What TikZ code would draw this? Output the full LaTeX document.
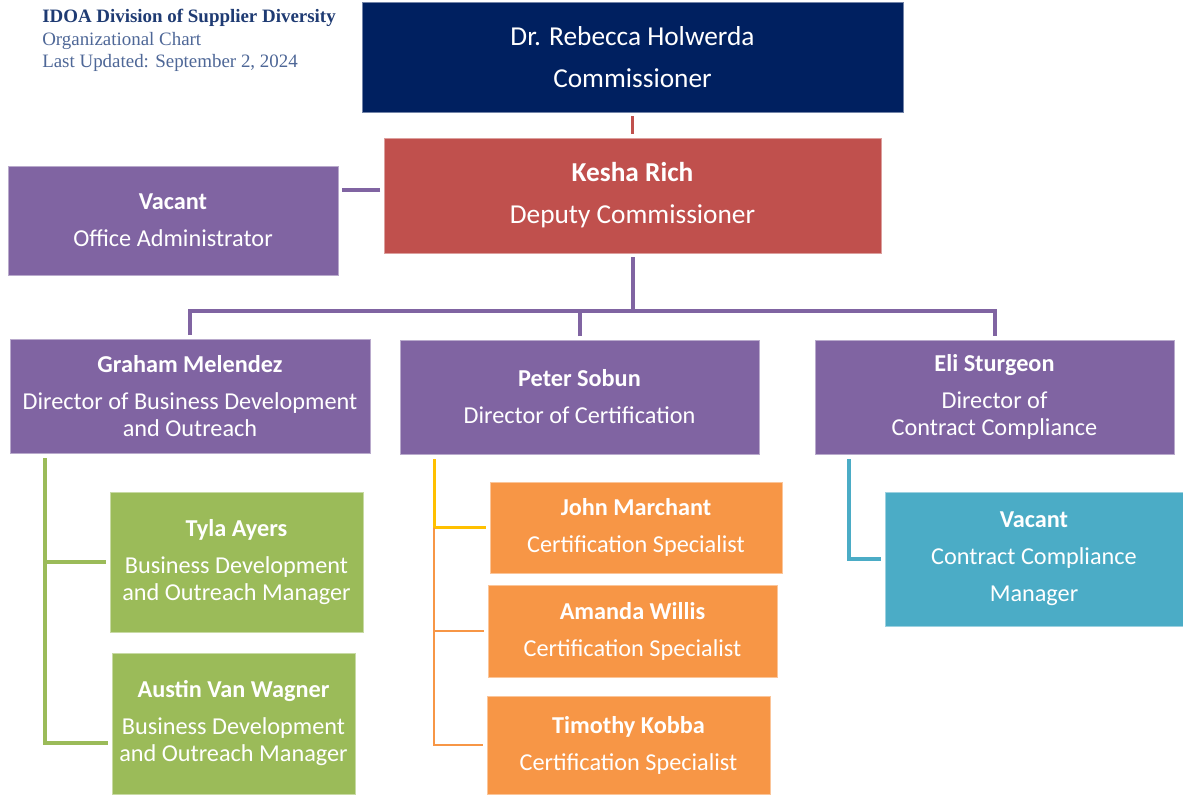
\documentclass[tikz,border=0pt]{standalone}
\usepackage{fontspec}
\setmainfont{Carlito}
\newfontfamily\titlefont{Liberation Serif}

\definecolor{navy}{HTML}{002060}
\definecolor{brick}{HTML}{C0504D}
\definecolor{plum}{HTML}{8064A2}
\definecolor{leaf}{HTML}{9BBB59}
\definecolor{tang}{HTML}{F79646}
\definecolor{teal}{HTML}{4BACC6}
\definecolor{gold}{HTML}{FFC000}
\definecolor{inkblue}{HTML}{1F3B73}
\definecolor{softblue}{HTML}{4E6797}

\tikzset{
  box/.style={rectangle, fill=#1, draw=#1!55!white, line width=0.6pt, text=white,
    align=center, inner sep=0pt, outer sep=3pt, font=\fontsize{18.2}{20.25}\selectfont},
  bigbox/.style={box=#1, font=\fontsize{20.5}{31.5}\selectfont},
  link/.style={draw=#1, line width=3pt},
  thinlink/.style={draw=#1, line width=1.5pt},
  caption/.style={anchor=base west, inner sep=0pt, font=\titlefont\fontsize{14.2}{16}\selectfont}
}

\begin{document}
\begin{tikzpicture}[x=0.75pt,y=-0.75pt]
  \useasboundingbox[fill=white] (0,0) rectangle (1183,794);

  % Heading
  \node[caption, text=inkblue, font=\titlefont\bfseries\fontsize{14.2}{16}\selectfont] (ttl) at (42,22) {IDOA Division of Supplier Diversity};
  \node[caption, text=softblue] (sub) at (42,45) {Organizational Chart};
  \node[caption, text=softblue] (upd) at (42,67) {Last Updated: September 2, 2024};

  % Leadership
  \node[bigbox=navy, minimum width=405.75pt, minimum height=82.5pt] (com) at (632.5,57) {Dr. Rebecca Holwerda\\Commissioner};
  \node[bigbox=brick, minimum width=372.75pt, minimum height=86.25pt] (dep) at (632.5,195.5) {\textbf{Kesha Rich}\\Deputy Commissioner};
  \node[box=plum, minimum width=247.5pt, minimum height=81.75pt] (adm) at (173,220.5) {\textbf{Vacant}\\[7.5pt]Office Administrator};

  % Directors
  \node[box=plum, minimum width=270pt, minimum height=85.5pt] (grm) at (190,396) {\textbf{Graham Melendez}\\[7.5pt]Director of Business Development\\and Outreach};
  \node[box=plum, minimum width=269.25pt, minimum height=85.5pt] (psb) at (579.5,397) {\textbf{Peter Sobun}\\[7.5pt]Director of Certification};
  \node[box=plum, minimum width=269.25pt, minimum height=85.5pt] (est) at (994.5,397) {\textbf{Eli Sturgeon}\\[7.5pt]Director of\\Contract Compliance};

  % Business development staff
  \node[box=leaf, minimum width=189.75pt, minimum height=105pt] (tya) at (236.5,562) {\textbf{Tyla Ayers}\\[7.5pt]Business Development\\and Outreach Manager};
  \node[box=leaf, minimum width=182.25pt, minimum height=105.75pt] (avw) at (233.5,723.5) {\textbf{Austin Van Wagner}\\[7.5pt]Business Development\\and Outreach Manager};

  % Certification staff
  \node[box=tang, minimum width=219pt, minimum height=68.25pt] (jmr) at (636,527.5) {\textbf{John Marchant}\\[7.5pt]Certification Specialist};
  \node[box=tang, minimum width=216.75pt, minimum height=69pt] (amw) at (632.5,631) {\textbf{Amanda Willis}\\[7.5pt]Certification Specialist};
  \node[box=tang, minimum width=212.25pt, minimum height=73.5pt] (tkb) at (628.5,745) {\textbf{Timothy Kobba}\\[7.5pt]Certification Specialist};

  % Compliance staff
  \node[box=teal, minimum width=223.5pt, minimum height=100.5pt] (ccm) at (1034,559) {\textbf{Vacant}\\[7.5pt]Contract Compliance\\[7.5pt]Manager};

  % Branch points
  \coordinate (bus) at (632.5,311);
  \coordinate (gtop) at (45,458);
  \coordinate (gend) at (45,743);
  \coordinate (otop) at (434,459);
  \coordinate (btop) at (849,459);

  % Reporting lines
  \draw[link=brick, line width=2.25pt] (com.south) -- (dep.north);
  \draw[link=plum] ([yshift=4.5pt]dep.west) -- ([yshift=4.5pt]dep.west -| adm.east);
  \draw[link=plum] (dep.south) -- (bus);
  \draw[link=plum] (grm.north) |- (bus) -| (est.north);
  \draw[link=plum] (psb.north) -- (psb.north |- bus);

  \draw[link=leaf] (gtop) |- (tya.west);
  \draw[link=leaf] (gtop) -- (gend) -- (gend -| avw.west);

  \draw[link=gold, line width=2.25pt] (otop) |- (jmr.west);
  \draw[thinlink=tang] (otop |- jmr.west) |- (amw.west);
  \draw[thinlink=tang] (otop |- jmr.west) |- (tkb.west);

  \draw[link=teal] (btop) |- (ccm.west);
\end{tikzpicture}
\end{document}
